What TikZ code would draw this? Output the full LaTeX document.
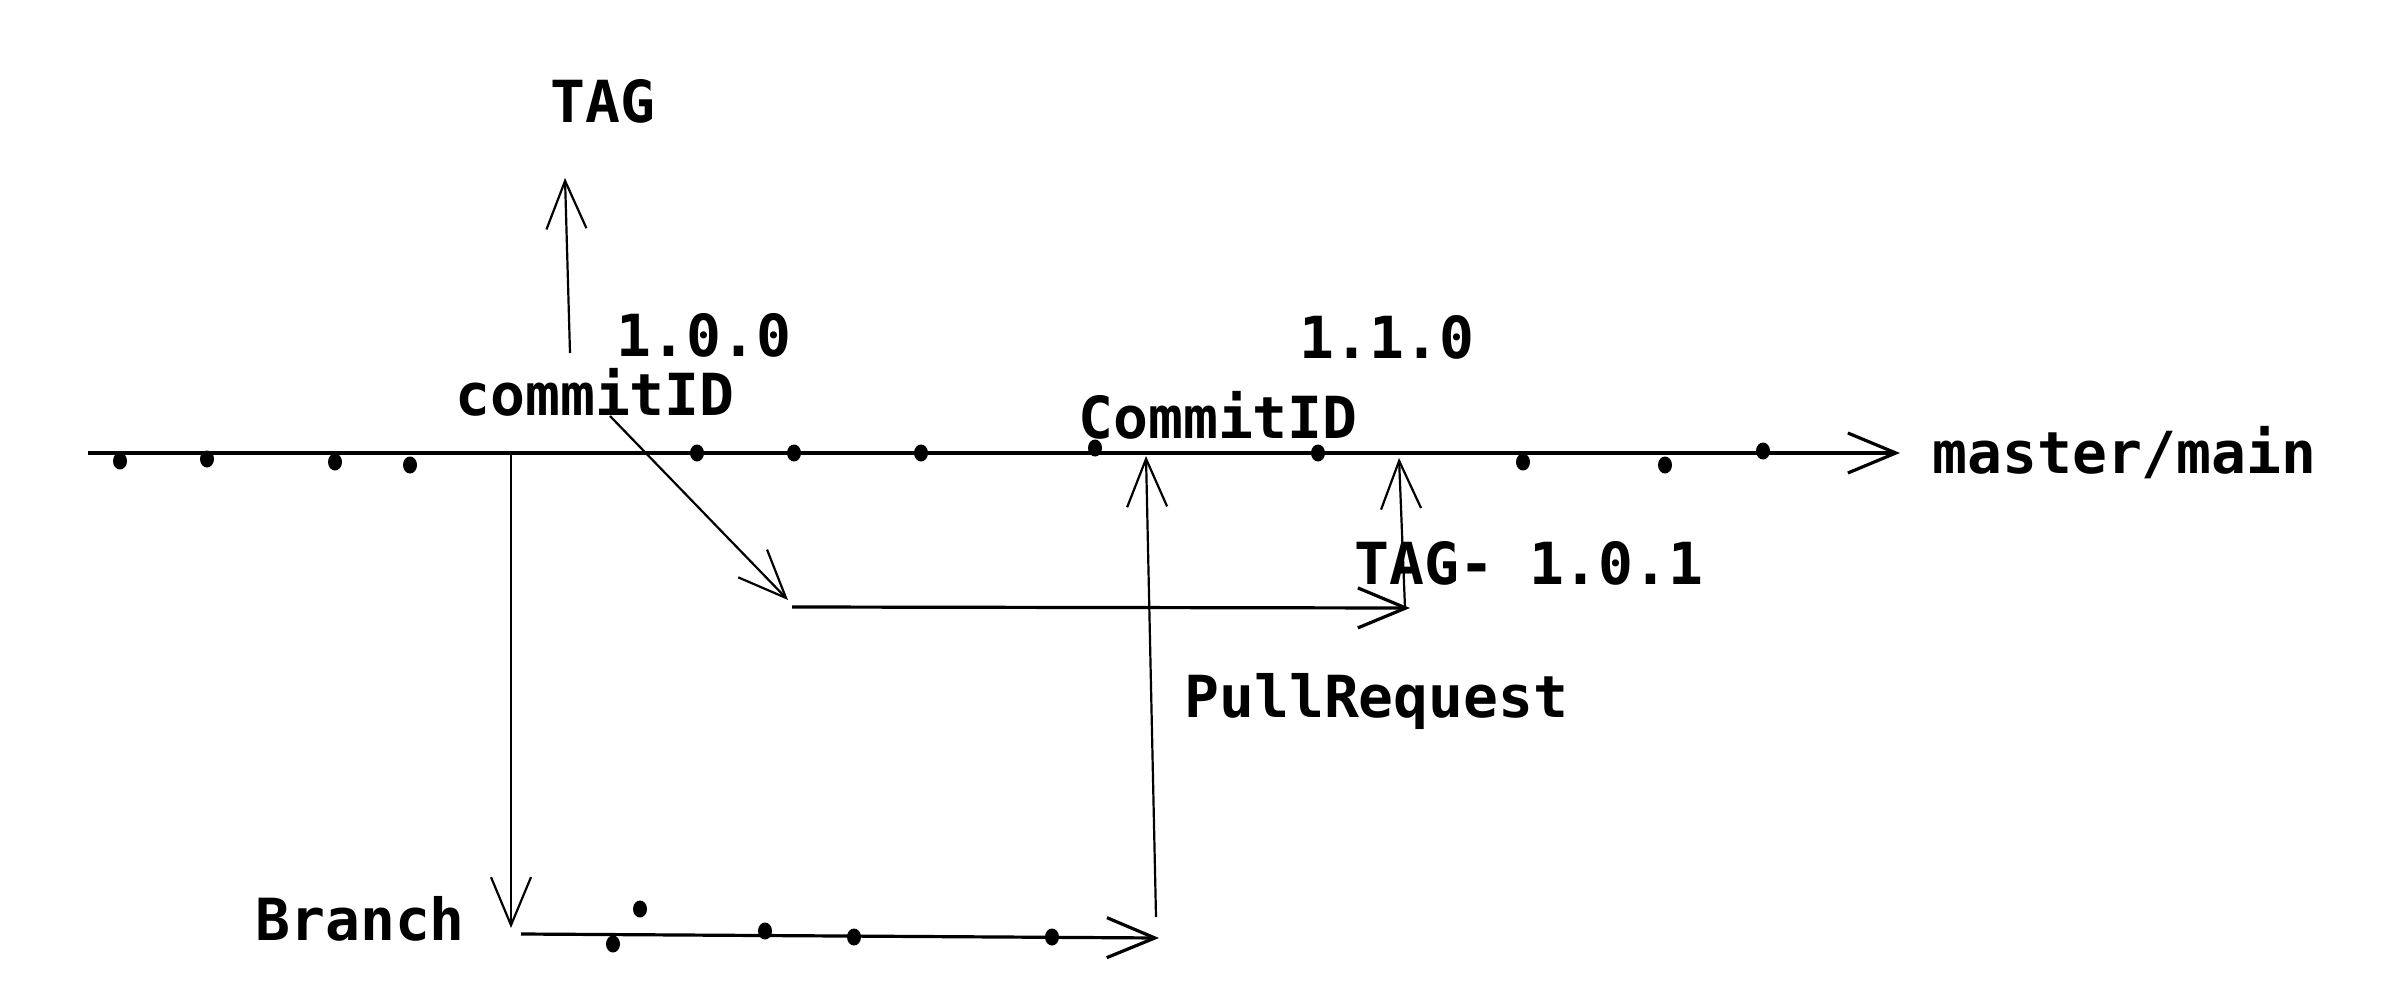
\documentclass[tikz,border=0pt]{standalone}
\usepackage{fontspec}
\setmonofont{DejaVu Sans Mono}
\usetikzlibrary{arrows.meta,shapes.geometric}
\begin{document}
\begin{tikzpicture}[x=0.5pt,y=-0.5pt,
 lbl/.style={inner sep=0pt,anchor=base west,font=\ttfamily\bfseries\fontsize{29}{34}\selectfont},
 cdot/.style={ellipse,fill=black,inner sep=0pt,minimum width=7pt,minimum height=8.5pt},
 mainline/.style={line width=1.6pt},
 thinline/.style={line width=1.1pt},
 barb/.style={-{Straight Barb[length=24pt,width=20pt]}}]
\useasboundingbox (0,0) rectangle (2408,1000);
% labels
\node[lbl] (tag) at (550,123) {TAG};
\node[lbl] (v100) at (616,356) {1.0.0};
\node[lbl] (cid1) at (455,415) {commitID};
\node[lbl] (v110) at (1299,358) {1.1.0};
\node[lbl] (cid2) at (1078,438) {CommitID};
\node[lbl] (master) at (1932,473) {master/main};
\node[lbl] (tag101) at (1354,584) {TAG- 1.0.1};
\node[lbl] (pr) at (1184,717) {PullRequest};
\node[lbl] (branch) at (255,940) {Branch};
% coordinates
\coordinate (mstart) at (88,453);
\coordinate (mend) at (1900,453);
\coordinate (tagfrom) at (570,353);
\coordinate (tagto) at (565,178);
\coordinate (bfrom) at (511,453);
\coordinate (bto) at (511,928);
\coordinate (dfrom) at (610,416);
\coordinate (dto) at (788,600);
\coordinate (hfrom) at (792,607);
\coordinate (hto) at (1410,608);
\coordinate (t1from) at (1405,608);
\coordinate (t1to) at (1399,458);
\coordinate (prfrom) at (1156,917);
\coordinate (prto) at (1146,456);
\coordinate (brfrom) at (521,934);
\coordinate (brto) at (1159,938);
% lines
\draw[mainline,barb] (mstart) -- (mend);
\draw[thinline,barb] (tagfrom) -- (tagto);
\draw[thinline,barb] (bfrom) -- (bto);
\draw[thinline,barb] (dfrom) -- (dto);
\draw[mainline,barb] (hfrom) -- (hto);
\draw[thinline,barb] (t1from) -- (t1to);
\draw[thinline,barb] (prfrom) -- (prto);
\draw[mainline,barb] (brfrom) -- (brto);
% dots on main line
\node[cdot] (m1) at (120,461) {};
\node[cdot] (m2) at (207,459) {};
\node[cdot] (m3) at (335,462) {};
\node[cdot] (m4) at (410,465) {};
\node[cdot] (m5) at (697,453) {};
\node[cdot] (m6) at (794,453) {};
\node[cdot] (m7) at (921,453) {};
\node[cdot] (m8) at (1095,448) {};
\node[cdot] (m9) at (1318,453) {};
\node[cdot] (m10) at (1523,462) {};
\node[cdot] (m11) at (1665,465) {};
\node[cdot] (m12) at (1763,451) {};
% dots on branch
\node[cdot] (b1) at (640,909) {};
\node[cdot] (b2) at (613,944) {};
\node[cdot] (b3) at (765,931) {};
\node[cdot] (b4) at (854,937) {};
\node[cdot] (b5) at (1052,937) {};
\end{tikzpicture}
\end{document}
